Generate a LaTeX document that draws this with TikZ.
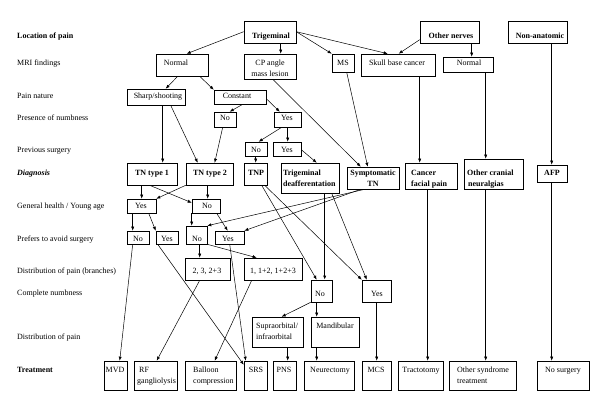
\documentclass[tikz,border=0pt]{standalone}
\usepackage{fontspec}
\setmainfont{Liberation Serif}
\usetikzlibrary{arrows.meta,calc,shadows}
\newcommand\tcL[1]{\begin{tabular}[t]{@{}l@{}}#1\end{tabular}}
\newcommand\tcC[1]{\begin{tabular}[t]{@{}c@{}}#1\end{tabular}}
\newcommand\BoxAt[5]{\node[bx, minimum width={#4-#2}, minimum height={#5-#3}] (#1) at ({(#2+#4)/2},{(#3+#5)/2}) {};}
\tikzset{
  bx/.style={draw=black, line width=0.6pt, fill=white, inner sep=0pt,
    drop shadow={shadow xshift=1pt, shadow yshift=-1pt, fill=black, opacity=0.35}},
  txt/.style={inner sep=0pt, font=\fontsize{8}{11}\selectfont, anchor=base},
  btxt/.style={inner sep=0pt, font=\fontsize{8}{11}\selectfont\bfseries, anchor=base},
  lab/.style={inner sep=0pt, font=\fontsize{8}{11}\selectfont, anchor=base west},
  con/.style={-{Latex[length=4pt,width=3.2pt]}, line width=0.5pt},
  thk/.style={line width=1.1pt},
}
\begin{document}
\begin{tikzpicture}[x=1pt,y=-1pt]
\useasboundingbox (0,0) rectangle (600,410);
\fill[white] (0,0) rectangle (600,410);

% row labels
\node[lab, font=\fontsize{8}{11}\selectfont\bfseries] (l1) at (17,38) {Location of pain};
\node[lab] (l2) at (17,65) {MRI findings};
\node[lab] (l3) at (17,98) {Pain nature};
\node[lab] (l4) at (17,120) {Presence of numbness};
\node[lab] (l5) at (17,152) {Previous surgery};
\node[lab, font=\fontsize{8}{11}\selectfont\bfseries\itshape] (l6) at (17,175) {Diagnosis};
\node[lab] (l7) at (17,208) {General health / Young age};
\node[lab] (l8) at (17,241) {Prefers to avoid surgery};
\node[lab] (l9) at (17,273) {Distribution of pain (branches)};
\node[lab] (l10) at (17,295) {Complete numbness};
\node[lab] (l11) at (17,339) {Distribution of pain};
\node[lab, font=\fontsize{8}{11}\selectfont\bfseries] (l12) at (17,372) {Treatment};

% boxes
\BoxAt{trig}{244}{21}{296}{43}
\BoxAt{nrm1}{156}{54}{208}{76}
\BoxAt{cp}{244}{54}{296}{79}
\BoxAt{ms}{332}{54}{354}{72}
\BoxAt{skull}{361}{54}{435}{76}
\BoxAt{othn}{420}{21}{479}{43}
\BoxAt{nrm2}{443}{57}{493}{72}
\BoxAt{nonan}{508}{21}{567}{43}
\BoxAt{sharp}{127}{89}{185}{105}
\BoxAt{const}{214}{90}{266}{104}
\BoxAt{no1}{214}{112}{236}{127}
\BoxAt{yes1}{274}{112}{301}{127}
\BoxAt{no2}{245}{142}{267}{156}
\BoxAt{yes2}{273}{142}{301}{156}
\BoxAt{tn1}{127}{163}{177}{185}
\BoxAt{tn2}{186}{163}{233}{185}
\BoxAt{tnp}{244}{163}{267}{185}
\BoxAt{tdf}{281}{163}{339}{193}
\BoxAt{sym}{347}{167}{399}{189}
\BoxAt{cfp}{405}{163}{457}{189}
\BoxAt{ocn}{464}{159}{523}{189}
\BoxAt{afp}{537}{165}{567}{182}
\BoxAt{yes3}{127}{199}{156}{213}
\BoxAt{no3}{192}{199}{220}{213}
\BoxAt{no4}{127}{231}{149}{244}
\BoxAt{yes4}{156}{231}{178}{244}
\BoxAt{no5}{186}{226}{207}{244}
\BoxAt{yes5}{215}{231}{244}{244}
\BoxAt{br1}{185}{258}{230}{280}
\BoxAt{br2}{244}{258}{302}{280}
\BoxAt{no6}{311}{280}{332}{302}
\BoxAt{yes6}{362}{280}{391}{302}
\BoxAt{supra}{252}{317}{303}{347}
\BoxAt{mand}{311}{317}{359}{347}
\BoxAt{mvd}{104}{361}{127}{390}
\BoxAt{rf}{134}{361}{177}{390}
\BoxAt{bal}{185}{361}{236}{390}
\BoxAt{srs}{244}{361}{267}{390}
\BoxAt{pns}{273}{361}{296}{390}
\BoxAt{neur}{304}{361}{354}{390}
\BoxAt{mcs}{362}{361}{391}{390}
\BoxAt{tract}{398}{361}{443}{390}
\BoxAt{oth}{449}{361}{516}{390}
\BoxAt{nosurg}{537}{361}{589}{390}

% box texts
\node[btxt] (trig-t) at (271,38) {Trigeminal};
\node[txt] (nrm1-t) at (176,65) {Normal};
\node[txt] (cp-t) at (270,65) {\tcC{CP angle\\mass lesion}};
\node[txt] (ms-t) at (343,65) {MS};
\node[txt] (skull-t) at (397,65) {Skull base cancer};
\node[btxt] (othn-t) at (451,38) {Other nerves};
\node[txt] (nrm2-t) at (469,65) {Normal};
\node[btxt] (nonan-t) at (540,38) {Non-anatomic};
\node[txt] (sharp-t) at (158,98) {Sharp/shooting};
\node[txt] (const-t) at (237,98) {Constant};
\node[txt] (no1-t) at (225,120) {No};
\node[txt] (yes1-t) at (287,120) {Yes};
\node[txt] (no2-t) at (256,152) {No};
\node[txt] (yes2-t) at (287,152) {Yes};
\node[btxt] (tn1-t) at (152,175) {TN type 1};
\node[btxt] (tn2-t) at (210,175) {TN type 2};
\node[btxt] (tnp-t) at (256,175) {TNP};
\node[btxt, anchor=base west] (tdf-t) at (283,175) {\tcL{Trigeminal\\deafferentation}};
\node[btxt] (sym-t) at (373,175) {\tcC{Symptomatic\\TN}};
\node[btxt, anchor=base west] (cfp-t) at (411,175) {\tcL{Cancer\\facial pain}};
\node[btxt, anchor=base west] (ocn-t) at (467,175) {\tcL{Other cranial\\\hspace{1pt}neuralgias}};
\node[btxt] (afp-t) at (552,175) {AFP};
\node[txt] (yes3-t) at (141,208) {Yes};
\node[txt] (no3-t) at (207,208) {No};
\node[txt] (no4-t) at (138,241) {No};
\node[txt] (yes4-t) at (167,241) {Yes};
\node[txt] (no5-t) at (197,241) {No};
\node[txt] (yes5-t) at (228,241) {Yes};
\node[txt] (br1-t) at (207,273) {2, 3, 2+3};
\node[txt] (br2-t) at (273,273) {1, 1+2, 1+2+3};
\node[txt] (no6-t) at (320,296) {No};
\node[txt] (yes6-t) at (377,296) {Yes};
\node[txt, anchor=base west] (supra-t) at (256,328) {\tcL{Supraorbital/\\infraorbital}};
\node[txt] (mand-t) at (335,328) {Mandibular};
\node[txt] (mvd-t) at (115,372) {MVD};
\node[txt, anchor=base west] (rf-t) at (137,372) {\tcL{\hspace{2pt}RF\\gangliolysis}};
\node[txt, anchor=base west] (bal-t) at (193,372) {\tcL{Balloon\\compression}};
\node[txt] (srs-t) at (256,372) {SRS};
\node[txt] (pns-t) at (284,372) {PNS};
\node[txt] (neur-t) at (330,372) {Neurectomy};
\node[txt] (mcs-t) at (376,372) {MCS};
\node[txt] (tract-t) at (421,372) {Tractotomy};
\node[txt, anchor=base west] (oth-t) at (457,372) {\tcL{Other syndrome\\treatment}};
\node[txt] (nosurg-t) at (563,372) {No surgery};

% connectors
\draw[con] ($(trig.north west)+(0,11)$) -- ($(nrm1.north west)+(31,0)$);
\draw[con] ($(trig.south west)+(37,0)$) -- ($(cp.north west)+(37,0)$);
\draw[con] ($(trig.north east)+(0,11)$) -- (ms.north west);
\draw[con] ($(trig.north east)+(0,11)$) -- ($(skull.north west)+(27,0)$);
\draw[con] ($(othn.north west)+(0,19)$) -- ($(skull.north west)+(38,0)$);
\draw[con] ($(othn.south west)+(52,0)$) -- ($(nrm2.north west)+(29,0)$);
\draw[con] ($(nonan.south west)+(44,0)$) -- ($(afp.north west)+(15,0)$);
\draw[con] ($(nrm1.south west)+(22,0)$) -- ($(sharp.north west)+(39,0)$);
\draw[con] ($(nrm1.south west)+(44,0)$) -- (const.north west);
\draw[con] ($(const.south west)+(29,0)$) -- ($(no1.north west)+(16,0)$);
\draw[con] ($(const.north east)+(0,9)$) -- ($(yes1.north west)+(6,0)$);
\draw[con] ($(sharp.south west)+(36,0)$) -- ($(tn1.north west)+(36,0)$);
\draw[con] ($(sharp.south west)+(44,0)$) -- ($(tn2.north west)+(12,0)$);
\draw[con] ($(no1.south west)+(9,0)$) -- ($(tn2.north west)+(29,0)$);
\draw[con] ($(yes1.south west)+(8,0)$) -- ($(no2.north west)+(14,0)$);
\draw[con] ($(yes1.south west)+(14,0)$) -- ($(yes2.north west)+(15,0)$);
\draw[con] ($(no2.south west)+(11,0)$) -- ($(tnp.north west)+(12,0)$);
\draw[con] ($(yes2.north east)+(0,8)$) -- ($(tdf.north west)+(36,0)$);
\draw[con] ($(cp.south west)+(29,0)$) -- ($(sym.north west)+(14,0)$);
\draw[con] ($(ms.south west)+(15,0)$) -- ($(sym.north west)+(21,0)$);
\draw[con] ($(skull.south west)+(59,0)$) -- ($(cfp.north west)+(15,0)$);
\draw[con] ($(nrm2.south west)+(43,0)$) -- ($(ocn.north west)+(22,0)$);
\draw[con] ($(tn1.south west)+(15,0)$) -- ($(yes3.north west)+(15,0)$);
\draw[con] ($(tn1.south west)+(23,0)$) -- ($(no3.north west)+(0,4)$);
\draw[con] (tn2.south west) -- (yes3.north east);
\draw[con] ($(tn2.south west)+(22,0)$) -- ($(no3.north west)+(16,0)$);
\draw[con, thk] ($(tdf.south west)+(44,0)$) -- ($(no6.north west)+(14,0)$);
\draw[con] ($(tdf.south west)+(51,0)$) -- ($(yes6.north west)+(5,0)$);
\draw[con] ($(tnp.south west)+(18,0)$) -- ($(no6.north west)+(6,0)$);
\draw[con] ($(tnp.south west)+(21,0)$) -- (yes6.north west);
\draw[con] ($(sym.south west)+(18,0)$) -- (no5.north east);
\draw[con] ($(sym.south west)+(14,0)$) -- (yes5.north east);
\draw[con] ($(yes3.south west)+(6,0)$) -- ($(no4.north west)+(6,0)$);
\draw[con] ($(yes3.south west)+(22,0)$) -- (yes4.north west);
\draw[con] (no3.south west) -- ($(no5.north west)+(6,0)$);
\draw[con] ($(no3.south west)+(25,0)$) -- ($(yes5.north west)+(13,0)$);
\draw[con] ($(no4.south west)+(6,0)$) -- ($(mvd.north west)+(16,0)$);
\draw[con] ($(yes4.south west)+(2,0)$) -- ($(srs.north west)+(0,4)$);
\draw[con] ($(yes5.south west)+(15,0)$) -- ($(srs.north west)+(2,0)$);
\draw[con] ($(no5.south west)+(14,0)$) -- ($(br1.north west)+(15,0)$);
\draw[con] (no5.south east) -- ($(br2.north west)+(13,0)$);
\draw[con] ($(br1.south west)+(15,0)$) -- ($(rf.north west)+(23,0)$);
\draw[con] ($(br2.south west)+(8,0)$) -- ($(bal.north west)+(30,0)$);
\draw[con] (no6.south west) -- ($(supra.north west)+(30,0)$);
\draw[con] ($(no6.south west)+(6,0)$) -- ($(mand.north west)+(6,0)$);
\draw[con] ($(yes6.south west)+(15,0)$) -- ($(mcs.north west)+(15,0)$);
\draw[con] ($(supra.south west)+(36,0)$) -- ($(pns.north west)+(15,0)$);
\draw[con] ($(mand.south west)+(6,0)$) -- ($(neur.north west)+(13,0)$);
\draw[con] ($(cfp.south west)+(23,0)$) -- ($(tract.north west)+(30,0)$);
\draw[con] ($(ocn.south west)+(22,0)$) -- ($(oth.north west)+(37,0)$);
\draw[con] ($(afp.south west)+(15,0)$) -- ($(nosurg.north west)+(15,0)$);
\end{tikzpicture}
\end{document}
